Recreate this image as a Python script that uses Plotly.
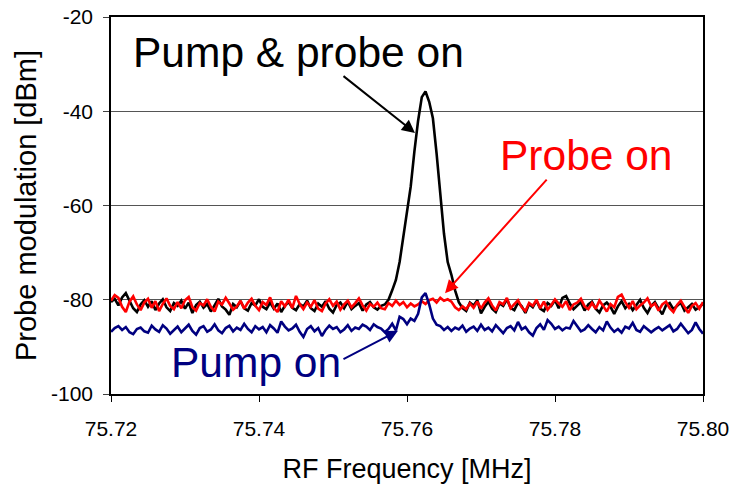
import numpy as np
import plotly.graph_objects as go

# Frequency sweep (MHz)
f_start = 75.72
f_stop = 75.80
n_points = 161
freq = np.linspace(f_start, f_stop, n_points)

# Pump & probe on (black)
pump_probe = [
    -80.5, -79.8, -81.2, -79.5, -78.6, -80.2, -81.8, -82.6, -81.0, -80.1,
    -81.5, -80.3, -82.2, -80.8, -79.9, -81.6, -82.4, -80.7, -81.3, -80.2,
    -81.9, -80.6, -82.8, -81.1, -80.4, -81.7, -80.9, -82.5, -81.2, -79.8,
    -81.4, -82.1, -83.2, -80.9, -81.6, -80.3, -81.8, -82.3, -80.7, -81.2,
    -79.9, -81.5, -82.0, -80.6, -81.9, -80.8, -82.6, -81.3, -80.5, -81.7,
    -82.2, -80.9, -81.4, -80.2, -81.8, -82.4, -80.8, -81.5, -80.3, -81.9,
    -82.7, -81.1, -80.6, -81.8, -80.4, -82.0, -81.3, -80.7, -82.3, -81.0,
    -80.5, -81.6, -82.1, -81.3, -81.0, -80.0, -78.0, -75.8, -72.0, -67.0,
    -62.0, -56.0, -48.5, -42.0, -37.0, -35.8, -38.0, -41.5, -49.0, -58.0,
    -66.0, -72.0, -74.7, -78.0, -80.5, -81.8, -82.4, -80.6, -81.2, -80.1,
    -82.9, -81.5, -80.4, -81.9, -82.6, -80.8, -81.3, -79.9, -81.7, -82.2,
    -80.6, -81.4, -82.8, -80.9, -81.6, -80.2, -81.9, -82.4, -80.7, -81.3,
    -80.1, -81.8, -79.6, -79.2, -80.8, -82.0, -81.2, -80.5, -82.3, -81.0,
    -80.4, -81.9, -82.7, -81.2, -80.6, -81.5, -83.0, -81.4, -80.3, -81.8,
    -80.9, -82.2, -81.1, -80.0, -81.7, -82.8, -81.3, -80.5, -81.9, -83.1,
    -81.2, -80.7, -82.0, -81.4, -80.6, -82.3, -81.5, -80.9, -82.1, -81.6,
    -80.8,
]

# Probe on (red)
probe_only = [
    -80.2, -79.0, -79.6, -81.5, -82.6, -80.4, -79.3, -81.0, -82.2, -80.6,
    -79.8, -81.7, -80.3, -82.4, -80.9, -79.7, -81.3, -82.0, -80.5, -81.8,
    -80.1, -79.4, -81.6, -82.3, -80.7, -81.2, -79.9, -81.5, -82.5, -80.4,
    -81.0, -79.6, -80.8, -82.1, -81.4, -80.2, -81.9, -80.6, -79.8, -81.3,
    -82.2, -80.5, -81.1, -79.5, -81.7, -82.6, -80.3, -81.4, -80.0, -81.8,
    -79.2, -80.9, -82.0, -80.6, -81.5, -80.1, -81.9, -82.4, -80.8, -79.9,
    -81.3, -80.4, -82.1, -81.0, -80.2, -81.6, -80.7, -79.7, -81.2, -82.3,
    -80.9, -81.5, -80.6, -81.8, -82.0, -80.7, -81.3, -80.2, -81.1, -80.5,
    -81.6, -80.8, -81.4, -81.0, -80.3, -80.9, -80.1, -79.8, -80.6, -79.6,
    -80.2, -79.9, -80.4, -81.6, -82.2, -81.4, -82.0, -80.8, -81.7, -80.4,
    -81.9, -80.6, -79.7, -81.2, -82.3, -80.5, -81.0, -79.6, -81.8, -80.9,
    -80.1, -81.6, -82.4, -80.7, -81.3, -80.0, -81.8, -80.4, -82.1, -81.1,
    -79.9, -80.8, -81.5, -80.3, -82.2, -81.0, -80.6, -79.8, -81.4, -82.0,
    -80.7, -81.9, -80.2, -81.3, -82.5, -80.9, -81.6, -79.4, -78.9, -80.5,
    -81.7, -80.3, -82.0, -81.2, -80.6, -79.7, -81.4, -80.8, -82.3, -81.0,
    -80.4, -81.8, -82.6, -81.1, -80.2, -81.5, -82.8, -81.3, -80.7, -81.9,
    -80.5,
]

# Pump on (navy)
pump_only = [
    -86.8, -86.0, -85.6, -86.4, -85.8, -86.9, -87.3, -86.2, -85.9, -86.7,
    -87.0, -85.5, -86.3, -86.8, -85.4, -86.1, -87.2, -86.5, -85.7, -86.9,
    -86.2, -85.3, -86.6, -87.4, -86.0, -85.6, -86.8, -86.3, -85.2, -86.5,
    -87.1, -86.0, -85.5, -86.7, -85.9, -86.4, -85.1, -86.2, -86.9, -85.6,
    -86.3, -85.8, -86.9, -85.4, -86.1, -87.0, -84.6, -85.7, -86.5, -86.1,
    -85.3, -86.8, -87.9, -86.2, -85.6, -86.7, -86.0, -87.7, -86.4, -85.5,
    -86.2, -85.8, -86.9, -86.3, -85.4, -86.6, -85.9, -86.2, -85.3, -85.7,
    -86.4, -85.2, -85.8, -86.1, -86.9, -86.2, -85.1, -86.5, -83.6, -84.1,
    -85.2, -84.0, -84.5, -83.0, -79.5, -78.6, -81.0, -84.0, -85.3, -85.6,
    -86.4, -85.8, -86.6, -85.9, -86.3, -85.5, -86.8, -86.1, -85.7, -86.6,
    -85.3, -86.4, -85.9, -86.7, -85.4, -86.2, -87.1, -86.0, -85.6, -86.5,
    -84.7, -86.3, -85.8, -86.9, -87.6, -86.0, -85.2, -86.4, -84.3, -85.1,
    -86.2, -85.7, -86.5, -85.9, -86.1, -84.5, -85.6, -86.7, -86.3, -85.4,
    -86.2, -86.9, -85.8, -86.5, -84.6, -85.9, -86.8, -86.2, -87.0, -85.7,
    -86.1, -84.9, -86.4, -86.8, -85.6, -86.2, -86.9, -86.3, -85.8, -86.5,
    -86.0, -85.4, -86.7, -86.2, -85.1, -86.0, -87.1, -86.4, -84.8, -86.2,
    -87.2,
]

x_ticks = [75.72, 75.74, 75.76, 75.78, 75.80]
x_tick_labels = ["75.72", "75.74", "75.76", "75.78", "75.80"]
y_ticks = [-100, -80, -60, -40, -20]
y_tick_labels = ["-100", "-80", "-60", "-40", "-20"]

FONT = "Liberation Sans, Arial, sans-serif"

fig = go.Figure()
fig.add_trace(go.Scatter(x=freq, y=pump_probe, mode="lines",
                         line=dict(color="#000000", width=2.6), name="Pump & probe on"))
fig.add_trace(go.Scatter(x=freq, y=probe_only, mode="lines",
                         line=dict(color="#FF0000", width=2.6), name="Probe on"))
fig.add_trace(go.Scatter(x=freq, y=pump_only, mode="lines",
                         line=dict(color="#000080", width=2.6), name="Pump on"))

# Labels
fig.add_annotation(x=75.74534, y=-27.6, text="Pump &amp; probe on", showarrow=False,
                   font=dict(family=FONT, size=42.5, color="#000000"))
fig.add_annotation(x=75.78432, y=-49.3, text="Probe on", showarrow=False,
                   font=dict(family=FONT, size=42.5, color="#FF0000"))
fig.add_annotation(x=75.73966, y=-93.4, text="Pump on", showarrow=False,
                   font=dict(family=FONT, size=42.5, color="#000080"))

# Arrows
fig.add_annotation(x=75.76108, y=-44.6, ax=-73, ay=-58, text="", showarrow=True,
                   arrowhead=2, arrowsize=1.3, arrowwidth=2, arrowcolor="#000000")
fig.add_annotation(x=75.76514, y=-78.6, ax=103, ay=-115, text="", showarrow=True,
                   arrowhead=2, arrowsize=1.3, arrowwidth=2, arrowcolor="#FF0000")
fig.add_annotation(x=75.75878, y=-86.6, ax=-56, ay=29, text="", showarrow=True,
                   arrowhead=2, arrowsize=1.3, arrowwidth=2, arrowcolor="#000080")

fig.update_layout(
    width=732, height=485,
    margin=dict(l=111, r=29, t=17, b=91),
    paper_bgcolor="white", plot_bgcolor="white",
    showlegend=False,
    font=dict(family=FONT, color="#000000"),
    xaxis=dict(
        range=[f_start, f_stop],
        tickvals=x_ticks, ticktext=x_tick_labels,
        ticks="outside", ticklen=6, tickcolor="#000000",
        ticklabelstandoff=9,
        showline=True, linecolor="#000000", linewidth=1.5, mirror=True,
        showgrid=False, zeroline=False, automargin=False,
        tickfont=dict(size=21, family=FONT),
        title=dict(text="RF Frequency [MHz]", font=dict(size=27, family=FONT), standoff=20),
    ),
    yaxis=dict(
        range=[-100, -20],
        tickvals=y_ticks, ticktext=y_tick_labels,
        ticks="outside", ticklen=6, tickcolor="#404040",
        ticklabelstandoff=6,
        showline=True, linecolor="#000000", linewidth=1.5, mirror=True,
        showgrid=True, gridcolor="#555555", gridwidth=1,
        zeroline=False, automargin=False,
        tickfont=dict(size=21, family=FONT),
        title=dict(text="Probe modulation [dBm]", font=dict(size=29, family=FONT), standoff=6),
    ),
)

fig.write_html("out.html")
